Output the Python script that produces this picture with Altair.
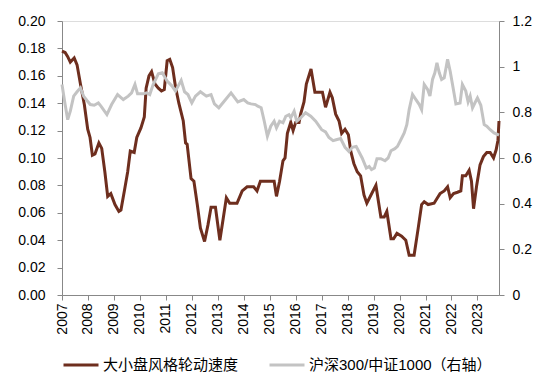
import altair as alt
import pandas as pd

# 大小盘风格轮动速度 (left axis)
speed_year = [2007.00, 2007.12, 2007.22, 2007.32, 2007.47, 2007.58, 2007.71, 2007.86, 2007.99, 2008.08,
              2008.17, 2008.27, 2008.42, 2008.53, 2008.65, 2008.76, 2008.88, 2009.04, 2009.19, 2009.27,
              2009.42, 2009.53, 2009.63, 2009.78, 2009.88, 2010.04, 2010.17, 2010.24, 2010.35, 2010.45,
              2010.58, 2010.71, 2010.83, 2010.94, 2011.05, 2011.15, 2011.26, 2011.37, 2011.50, 2011.67,
              2011.76, 2011.82, 2011.97, 2012.08, 2012.21, 2012.33, 2012.49, 2012.62, 2012.74, 2012.91,
              2013.08, 2013.21, 2013.33, 2013.46, 2013.74, 2013.94, 2014.13, 2014.38, 2014.51, 2014.64,
              2014.96, 2015.17, 2015.26, 2015.38, 2015.51, 2015.59, 2015.68, 2015.81, 2015.90, 2016.00,
              2016.13, 2016.19, 2016.32, 2016.41, 2016.59, 2016.74, 2017.03, 2017.15, 2017.32, 2017.41,
              2017.54, 2017.67, 2017.77, 2017.90, 2018.03, 2018.12, 2018.24, 2018.37, 2018.50, 2018.63,
              2018.74, 2018.90, 2019.09, 2019.28, 2019.41, 2019.51, 2019.67, 2019.77, 2019.90, 2020.08,
              2020.24, 2020.37, 2020.56, 2020.72, 2020.85, 2020.95, 2021.10, 2021.33, 2021.46, 2021.56,
              2021.72, 2021.85, 2021.95, 2022.08, 2022.23, 2022.36, 2022.42, 2022.55, 2022.68, 2022.77,
              2022.85, 2022.97, 2023.10, 2023.23, 2023.36, 2023.49, 2023.62, 2023.72, 2023.79, 2023.83]
speed_value = [0.178, 0.177, 0.174, 0.170, 0.173, 0.168, 0.154, 0.139, 0.121, 0.115,
               0.102, 0.103, 0.111, 0.107, 0.090, 0.072, 0.074, 0.066, 0.061, 0.062,
               0.078, 0.090, 0.105, 0.104, 0.115, 0.122, 0.130, 0.151, 0.160, 0.163,
               0.154, 0.151, 0.149, 0.150, 0.171, 0.172, 0.166, 0.152, 0.140, 0.127,
               0.111, 0.110, 0.085, 0.083, 0.066, 0.049, 0.039, 0.051, 0.064, 0.064,
               0.040, 0.056, 0.071, 0.067, 0.067, 0.076, 0.079, 0.079, 0.076, 0.083,
               0.083, 0.083, 0.072, 0.083, 0.098, 0.100, 0.118, 0.126, 0.120, 0.126,
               0.126, 0.132, 0.141, 0.154, 0.165, 0.148, 0.148, 0.137, 0.148, 0.144,
               0.132, 0.127, 0.118, 0.121, 0.117, 0.105, 0.096, 0.090, 0.087, 0.073,
               0.067, 0.073, 0.080, 0.057, 0.057, 0.061, 0.041, 0.041, 0.045, 0.043,
               0.040, 0.029, 0.029, 0.049, 0.066, 0.068, 0.066, 0.067, 0.071, 0.074,
               0.076, 0.079, 0.071, 0.074, 0.075, 0.076, 0.087, 0.087, 0.091, 0.083,
               0.063, 0.080, 0.095, 0.101, 0.104, 0.104, 0.100, 0.106, 0.113, 0.127]

# 沪深300/中证1000 (right axis)
ratio_year = [2007.00, 2007.12, 2007.22, 2007.32, 2007.45, 2007.58, 2007.71, 2007.83, 2007.96, 2008.09,
              2008.24, 2008.40, 2008.50, 2008.73, 2008.91, 2009.14, 2009.36, 2009.55, 2009.68, 2009.81,
              2009.91, 2010.13, 2010.26, 2010.38, 2010.51, 2010.71, 2010.86, 2011.05, 2011.24, 2011.37,
              2011.59, 2011.72, 2011.85, 2012.00, 2012.14, 2012.33, 2012.56, 2012.74, 2012.87, 2013.04,
              2013.23, 2013.51, 2013.77, 2014.00, 2014.15, 2014.28, 2014.45, 2014.54, 2014.67, 2014.79,
              2014.91, 2015.04, 2015.17, 2015.26, 2015.38, 2015.51, 2015.62, 2015.74, 2015.81, 2015.94,
              2016.04, 2016.19, 2016.38, 2016.58, 2016.77, 2017.00, 2017.15, 2017.28, 2017.44, 2017.56,
              2017.73, 2017.90, 2018.05, 2018.18, 2018.33, 2018.46, 2018.56, 2018.72, 2018.83, 2018.92,
              2019.03, 2019.13, 2019.28, 2019.44, 2019.56, 2019.67, 2019.82, 2019.92, 2020.05, 2020.18,
              2020.28, 2020.37, 2020.50, 2020.63, 2020.76, 2020.85, 2020.95, 2021.08, 2021.17, 2021.27,
              2021.36, 2021.44, 2021.53, 2021.62, 2021.72, 2021.85, 2021.95, 2022.04, 2022.17, 2022.33,
              2022.42, 2022.55, 2022.64, 2022.72, 2022.81, 2022.90, 2023.00, 2023.13, 2023.26, 2023.36,
              2023.49, 2023.64, 2023.83]
ratio_value = [0.922, 0.834, 0.768, 0.805, 0.871, 0.890, 0.907, 0.871, 0.852, 0.834,
               0.831, 0.841, 0.827, 0.790, 0.834, 0.878, 0.856, 0.871, 0.885, 0.922,
               0.881, 0.881, 0.885, 0.878, 0.922, 0.969, 0.973, 0.937, 0.915, 0.893,
               0.940, 0.890, 0.878, 0.841, 0.871, 0.890, 0.871, 0.878, 0.837, 0.820,
               0.846, 0.885, 0.846, 0.856, 0.841, 0.837, 0.834, 0.827, 0.820, 0.761,
               0.695, 0.739, 0.761, 0.732, 0.761, 0.754, 0.783, 0.790, 0.776, 0.805,
               0.761, 0.776, 0.798, 0.783, 0.761, 0.724, 0.714, 0.690, 0.676, 0.680,
               0.685, 0.647, 0.629, 0.647, 0.651, 0.622, 0.600, 0.556, 0.563, 0.549,
               0.556, 0.597, 0.597, 0.588, 0.600, 0.632, 0.641, 0.651, 0.680, 0.710,
               0.746, 0.812, 0.878, 0.856, 0.834, 0.812, 0.922, 0.900, 0.871, 0.944,
               0.973, 1.017, 0.973, 0.944, 0.951, 1.032, 0.980, 0.922, 0.837, 0.841,
               0.922, 0.893, 0.846, 0.871, 0.820, 0.841, 0.863, 0.831, 0.746, 0.739,
               0.724, 0.710, 0.700]

year_ticks = list(range(2007, 2024))
left_ticks = [0, 0.02, 0.04, 0.06, 0.08, 0.10, 0.12, 0.14, 0.16, 0.18, 0.20]
right_ticks = [0, 0.2, 0.4, 0.6, 0.8, 1.0, 1.2]
series_names = ["大小盘风格轮动速度", "沪深300/中证1000（右轴）"]
series_colors = ["#6E2E1E", "#C3C3C3"]

FONT = "Liberation Sans, Arial, Noto Sans CJK SC"
AXC = "#A6A6A6"

df_speed = pd.DataFrame({"year": speed_year, "value": speed_value, "series": series_names[0]})
df_ratio = pd.DataFrame({"year": ratio_year, "value": ratio_value, "series": series_names[1]})

x_enc = alt.X("year:Q",
              scale=alt.Scale(domain=[2007, 2023.83], nice=False, zero=False),
              axis=alt.Axis(values=year_ticks, format="d", labelAngle=270, title=None,
                            grid=False, tickSize=5, labelPadding=3, labelFontSize=14))

color_enc = alt.Color("series:N",
                      scale=alt.Scale(domain=series_names, range=series_colors),
                      legend=alt.Legend(title=None, orient="none", direction="horizontal",
                                        legendX=0, legendY=325,
                                        symbolType="stroke", symbolSize=1225,
                                        symbolStrokeWidth=3, labelFontSize=15,
                                        labelFont=FONT, labelColor="#000000",
                                        labelLimit=400,
                                        labelOffset=3, columnPadding=24, padding=0))

left = alt.Chart(df_speed).mark_line(strokeWidth=3).encode(
    x=x_enc,
    y=alt.Y("value:Q", scale=alt.Scale(domain=[0, 0.2], nice=False),
            axis=alt.Axis(orient="left", values=left_ticks, format=".2f", title=None,
                          grid=False, tickSize=5, labelPadding=12, labelFontSize=14)),
    color=color_enc,
)

right = alt.Chart(df_ratio).mark_line(strokeWidth=3).encode(
    x=x_enc,
    y=alt.Y("value:Q", scale=alt.Scale(domain=[0, 1.2], nice=False),
            axis=alt.Axis(orient="right", values=right_ticks, format=".1~f", title=None,
                          grid=False, tickSize=5, labelPadding=8, labelFontSize=14)),
    color=color_enc,
)

chart = alt.layer(left, right).resolve_scale(y="independent", color="shared").properties(
    width=437, height=274,
    autosize=alt.AutoSizeParams(type="none"),
    padding={"left": 54, "top": 13, "right": 51, "bottom": 79},
).configure_view(stroke=None).configure_axis(
    domainColor=AXC, tickColor=AXC, labelColor="#000000", labelFont=FONT,
).configure(background="white")

chart.save("out.html", embed_options={"renderer": "svg", "actions": False})
